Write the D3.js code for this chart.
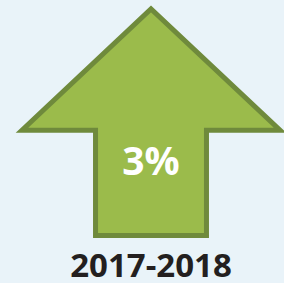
<!DOCTYPE html>
<html>
<head>
<meta charset="utf-8">
<script src="https://cdn.jsdelivr.net/npm/d3@7"></script>
<style>
  html, body { margin: 0; padding: 0; background: #e9f3f9; }
  svg { display: block; }
</style>
</head>
<body>
<div id="chart"></div>
<script>
// data
var periods = ["2017-2018"];
var changes = [3];
var labels  = ["3%"];

// size setup
var width = 284, height = 283;

var svg = d3.select("#chart").append("svg")
    .attr("width", width)
    .attr("height", height);

svg.append("rect")
    .attr("width", width)
    .attr("height", height)
    .attr("fill", "#e9f3f9");

// scales
var xScale = d3.scaleBand().domain(periods).range([22, 280]).padding(0);
var yScale = d3.scaleLinear().domain([0, 1]).range([235.5, 9]);

var shaftRatio = 0.43;   // shaft width relative to band
var headStart  = 0.465;  // where the head begins along the arrow

function arrowPath(d){
    var x0 = xScale(d.period),
        bw = xScale.bandwidth(),
        cx = x0 + bw / 2,
        sw = bw * shaftRatio / 2;
    var yb = yScale(0), yh = yScale(headStart), yt = yScale(1);
    return d3.line()([
        [cx - sw, yb],
        [cx - sw, yh],
        [x0, yh],
        [cx, yt],
        [x0 + bw, yh],
        [cx + sw, yh],
        [cx + sw, yb]
    ]) + "Z";
}

var data = periods.map(function(p, i){
    return {period: p, value: changes[i], label: labels[i]};
});

var g = svg.selectAll("g.arrow").data(data).enter().append("g").attr("class", "arrow");

g.append("path")
    .attr("d", arrowPath)
    .attr("fill", "#9bbb4b")
    .attr("stroke", "#6f8a3c")
    .attr("stroke-width", 5)
    .attr("stroke-linejoin", "miter");

g.append("text")
    .attr("x", function(d){ return xScale(d.period) + xScale.bandwidth() / 2; })
    .attr("y", 175)
    .attr("text-anchor", "middle")
    .attr("fill", "#ffffff")
    .attr("font-family", "'Open Sans', sans-serif")
    .attr("font-weight", "bold")
    .attr("font-size", 39)
    .text(function(d){ return d.label; });

g.append("text")
    .attr("x", function(d){ return xScale(d.period) + xScale.bandwidth() / 2; })
    .attr("y", 277)
    .attr("text-anchor", "middle")
    .attr("fill", "#231f20")
    .attr("font-family", "'Open Sans', sans-serif")
    .attr("font-weight", "bold")
    .attr("font-size", 33)
    .text(function(d){ return d.period; });
</script>
</body>
</html>
